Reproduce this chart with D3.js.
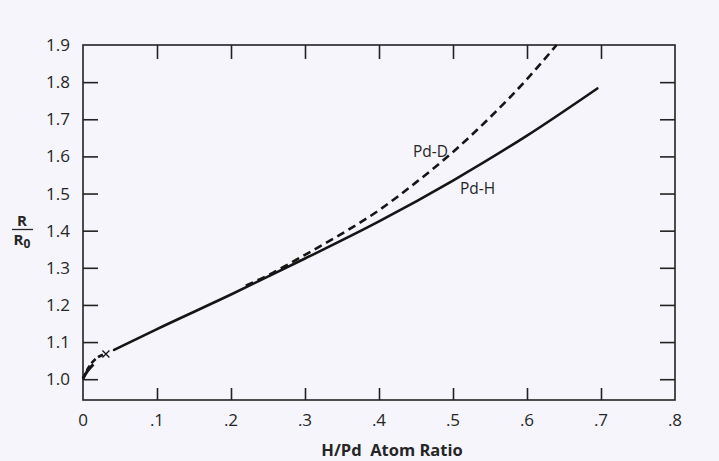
<!DOCTYPE html>
<html>
<head>
<meta charset="utf-8">
<script src="https://cdn.jsdelivr.net/npm/d3@7"></script>
<style>
  html, body { margin: 0; padding: 0; background: #f5f5fb; }
  svg { display: block; }
  text { font-family: "Open Sans", "DejaVu Sans", sans-serif; fill: #262626; }
</style>
</head>
<body>
<svg id="chart" width="719" height="461"></svg>
<script>
// ---- data ----
const xTicks = [0, 0.1, 0.2, 0.3, 0.4, 0.5, 0.6, 0.7, 0.8];
const xTickLabels = ["0", ".1", ".2", ".3", ".4", ".5", ".6", ".7", ".8"];
const yTicks = [1.0, 1.1, 1.2, 1.3, 1.4, 1.5, 1.6, 1.7, 1.8, 1.9];
const yTickLabels = ["1.0", "1.1", "1.2", "1.3", "1.4", "1.5", "1.6", "1.7", "1.8", "1.9"];

// Pd-H (solid)
const pdHx = [0.042, 0.1, 0.2, 0.3, 0.4, 0.5, 0.6, 0.695];
const pdHy = [1.079, 1.135, 1.228, 1.325, 1.425, 1.535, 1.656, 1.783];
// Pd-D (dashed), visibly separate from ~0.22
const pdDx = [0.22, 0.25, 0.3, 0.35, 0.4, 0.45, 0.5, 0.55, 0.6, 0.64];
const pdDy = [1.252, 1.280, 1.335, 1.392, 1.455, 1.530, 1.612, 1.705, 1.808, 1.9];
// initial low-concentration segments near origin
const startDx = [0.0, 0.008, 0.018, 0.027];
const startDy = [1.0, 1.033, 1.056, 1.066];
const startHx = [0.0, 0.006, 0.014];
const startHy = [1.003, 1.022, 1.04];
// cross marker
const crossX = [0.031];
const crossY = [1.068];

// ---- layout ----
const svg = d3.select("#chart");
const x = d3.scaleLinear().domain([0, 0.8]).range([83, 675]);
const y = d3.scaleLinear().domain([0.944, 1.9]).range([400, 45]);
const ink = "#151515";

// frame
svg.append("rect")
  .attr("x", x(0)).attr("y", y(1.9))
  .attr("width", x(0.8) - x(0)).attr("height", y(0.944) - y(1.9))
  .attr("fill", "none").attr("stroke", "#222").attr("stroke-width", 1.6);

// inward ticks via axes
const tickLen = 15;
const axB = d3.axisBottom(x).tickValues(xTicks.slice(1, -1)).tickSize(-12).tickFormat("");
const axT = d3.axisTop(x).tickValues(xTicks.slice(1, -1)).tickSize(-14).tickFormat("");
const axL = d3.axisLeft(y).tickValues(yTicks.slice(0, -1)).tickSize(-tickLen).tickFormat("");
const axR = d3.axisRight(y).tickValues(yTicks.slice(0, -1)).tickSize(-tickLen).tickFormat("");
function styleAxis(g) {
  g.select(".domain").remove();
  g.selectAll(".tick line").attr("stroke", "#222").attr("stroke-width", 1.6);
}
svg.append("g").attr("transform", `translate(0,${y(0.944)})`).call(axB).call(styleAxis);
svg.append("g").attr("transform", `translate(0,${y(1.9)})`).call(axT).call(styleAxis);
svg.append("g").attr("transform", `translate(${x(0)},0)`).call(axL).call(styleAxis);
svg.append("g").attr("transform", `translate(${x(0.8)},0)`).call(axR).call(styleAxis);

// tick labels
svg.append("g").selectAll("text").data(xTicks).join("text")
  .attr("x", d => x(d)).attr("y", 426)
  .attr("text-anchor", "middle").attr("font-size", 17)
  .text((d, i) => xTickLabels[i]);
svg.append("g").selectAll("text").data(yTicks).join("text")
  .attr("x", 70).attr("y", d => y(d) + 6)
  .attr("text-anchor", "end").attr("font-size", 17)
  .text((d, i) => yTickLabels[i]);

// axis titles
svg.append("text").attr("x", 392).attr("y", 456)
  .attr("text-anchor", "middle").attr("font-size", 16.5).attr("font-weight", "bold")
  .attr("xml:space", "preserve")
  .text("H/Pd  Atom Ratio");
const yl = svg.append("g");
yl.append("text").attr("x", 22).attr("y", 226).attr("text-anchor", "middle")
  .attr("font-size", 15).attr("font-weight", "bold").text("R");
yl.append("line").attr("x1", 12).attr("x2", 33).attr("y1", 229.5).attr("y2", 229.5)
  .attr("stroke", "#262626").attr("stroke-width", 1.3);
const r0 = yl.append("text").attr("x", 22).attr("y", 245).attr("text-anchor", "middle")
  .attr("font-size", 15).attr("font-weight", "bold");
r0.append("tspan").text("R");
r0.append("tspan").attr("font-size", 12).attr("dy", 3).text("0");

// curves
const line = d3.line().x(d => x(d[0])).y(d => y(d[1])).curve(d3.curveMonotoneX);
const zip = (a, b) => a.map((v, i) => [v, b[i]]);

svg.append("path").datum(zip(pdHx, pdHy)).attr("d", line)
  .attr("fill", "none").attr("stroke", ink).attr("stroke-width", 2.6).attr("stroke-linecap", "round");
svg.append("path").datum(zip(pdDx, pdDy)).attr("d", line)
  .attr("fill", "none").attr("stroke", ink).attr("stroke-width", 2.6)
  .attr("stroke-dasharray", "8,5");
svg.append("path").datum(zip(startDx, startDy)).attr("d", line)
  .attr("fill", "none").attr("stroke", ink).attr("stroke-width", 2.6)
  .attr("stroke-dasharray", "6,3");
svg.append("path").datum(zip(startHx, startHy)).attr("d", line)
  .attr("fill", "none").attr("stroke", ink).attr("stroke-width", 3);

// cross marker
svg.append("g").selectAll("path").data(zip(crossX, crossY)).join("path")
  .attr("d", d => {
    const cx = x(d[0]), cy = y(d[1]), s = 3.5;
    return `M${cx - s},${cy - s}L${cx + s},${cy + s}M${cx - s},${cy + s}L${cx + s},${cy - s}`;
  })
  .attr("stroke", ink).attr("stroke-width", 1.3).attr("fill", "none");

// curve labels
svg.append("text").attr("x", 413).attr("y", 157).attr("font-size", 15.5).text("Pd-D");
svg.append("text").attr("x", 460).attr("y", 194).attr("font-size", 15.5).text("Pd-H");
</script>
</body>
</html>
